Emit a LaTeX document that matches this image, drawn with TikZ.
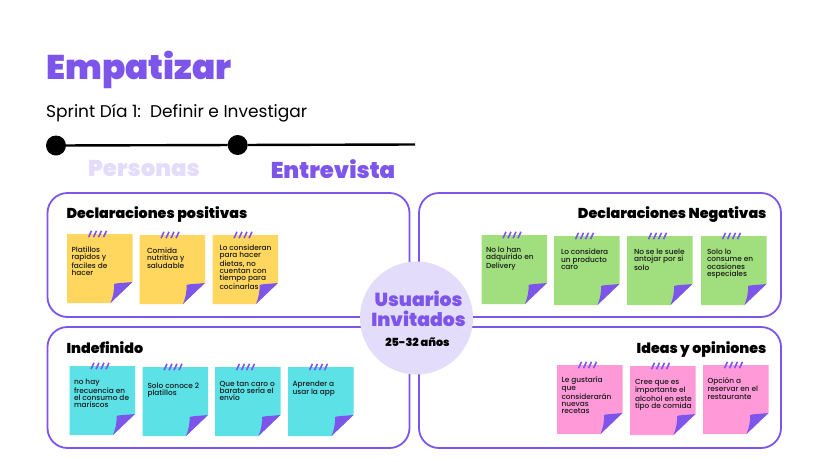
\documentclass[tikz,border=0pt]{standalone}
\usepackage{fontspec}
\setmainfont{Poppins}
\newfontfamily\heavy{Poppins Black}
\newfontfamily\medi{Poppins Medium}
\definecolor{pur}{HTML}{7D55EA}
\definecolor{lil}{HTML}{E4DCFB}
\definecolor{yel}{HTML}{FFD75E}
\definecolor{gre}{HTML}{A0DE7E}
\definecolor{cya}{HTML}{5CE1E6}
\definecolor{pnk}{HTML}{FF99D8}
\newcommand{\sticky}[7]{% name,x,y,colour,text dx,text dy,text
 \begin{scope}[shift={(#2,#3)}]
  \fill[#4] (0,0) -- (65.5,0) -- (65.5,48) -- (43.5,69) -- (0,69) -- cycle;
  \fill[pur] (65.5,48) .. controls (56,49) and (49,49) .. (47,50) .. controls (47.5,56) and (46,63) .. (43.5,69) -- cycle;
  \foreach \k in {0,5,10,15} \draw[pur,line width=1.6pt] (21.5+\k,3.2) -- (24.5+\k,-3.2);
  \node[memo] (#1) at (#5,#6) {#7};
 \end{scope}}
\tikzset{
 x=1pt,y=-1pt,
 panel/.style={draw=pur,line width=1.8pt,rounded corners=20pt,fill=white,minimum width=362pt,inner sep=0pt,outer sep=0pt},
 memo/.style={anchor=north west,inner sep=0pt,outer sep=0pt,align=left,font=\medi\fontsize{7.4}{7.3}\selectfont,text=black!90},
 head/.style={inner sep=0pt,outer sep=0pt,font=\heavy\fontsize{14.3}{14}\selectfont,text=black},
 dot/.style={circle,fill=black,minimum size=20pt,inner sep=0pt,outer sep=0pt},
}
\begin{document}
\begin{tikzpicture}
\useasboundingbox[fill=white] (0,0) rectangle (820,461);
\node[anchor=base west,inner sep=0pt,text=pur,font=\heavy\fontsize{34.2}{34}\selectfont] (title) at (46,79) {Empatizar};
\node[anchor=base west,inner sep=0pt,font=\fontsize{17}{17}\selectfont] (sprint) at (46,117) {Sprint Día 1:\ \ Definir e Investigar};
\coordinate (lineend) at (415,144.5);
\node[dot] (d1) at (56,145.5) {};
\node[dot] (d2) at (237.7,145) {};
\draw[line width=2.4pt] (d1) -- (d2) -- (lineend);
\node[inner sep=0pt,font=\heavy\fontsize{22.8}{20}\selectfont,text=lil] (personas) at (144,169) {Personas};
\node[inner sep=0pt,font=\heavy\fontsize{22.8}{20}\selectfont,text=pur] (entrevista) at (333,169) {Entrevista};

\node[panel,minimum height=124pt] (p1) at (228.5,255) {};
\node[panel,minimum height=124pt] (p2) at (600,255) {};
\node[panel,minimum height=121pt] (p3) at (228.5,387.5) {};
\node[panel,minimum height=121pt] (p4) at (600,387.5) {};

\node[head,anchor=base west] (h1) at (66.5,218.5) {Declaraciones positivas};
\node[head,anchor=base east] (h2) at (766.5,218.5) {Declaraciones Negativas};
\node[head,anchor=base west] (h3) at (66.5,353.5) {Indefinido};
\node[head,anchor=base east] (h4) at (766.5,353) {Ideas y opiniones};

\sticky{s1}{67}{234}{yel}{4.5}{12.5}{Platillos\\rapidos y\\faciles de\\hacer}
\sticky{s2}{139.5}{235}{yel}{7.5}{12.5}{Comida\\nutritiva y\\saludable}
\sticky{s3}{212.5}{235}{yel}{7}{9.5}{Lo consideran\\para hacer\\dietas, no\\cuentan con\\tiempo para\\cocinarlas}
\sticky{s4}{481.5}{235}{gre}{4.5}{12}{No lo han\\adquirido en\\Delivery}
\sticky{s5}{554}{236}{gre}{7}{13}{Lo considera\\un producto\\caro}
\sticky{s6}{627}{236}{gre}{7}{13}{No se le suele\\antojar por si\\solo}
\sticky{s7}{701}{236}{gre}{6}{13}{Solo lo\\consume en\\ocasiones\\especiales}
\sticky{s8}{69.5}{366}{cya}{4.5}{13}{no hay\\frecuencia en\\el consumo de\\mariscos}
\sticky{s9}{142.5}{367}{cya}{5}{16}{Solo conoce 2\\platillos}
\sticky{s10}{215}{367}{cya}{4.5}{14}{Que tan caro o\\barato sería el\\envío}
\sticky{s11}{288}{367}{cya}{4.5}{14}{Aprender a\\usar la app}
\sticky{s12}{557}{365}{pnk}{4.5}{12}{Le gustaría\\que\\considerarán\\nuevas\\recetas}
\sticky{s13}{630}{366}{pnk}{5}{13}{Cree que es\\importante el\\alcohol en este\\tipo de comida}
\sticky{s14}{703}{365}{pnk}{4.5}{12.5}{Opción a\\reservar en el\\restaurante}

\node[circle,fill=lil,minimum size=113pt,inner sep=0pt] (c) at (416.5,318) {};
\node[inner sep=0pt,align=center,text=pur,font=\heavy\fontsize{18.8}{19.5}\selectfont] (u) at (418.5,309) {Usuarios\\Invitados};
\node[inner sep=0pt,font=\heavy\fontsize{11.2}{11}\selectfont] (a) at (417.5,342) {25-32 años};
\end{tikzpicture}
\end{document}
